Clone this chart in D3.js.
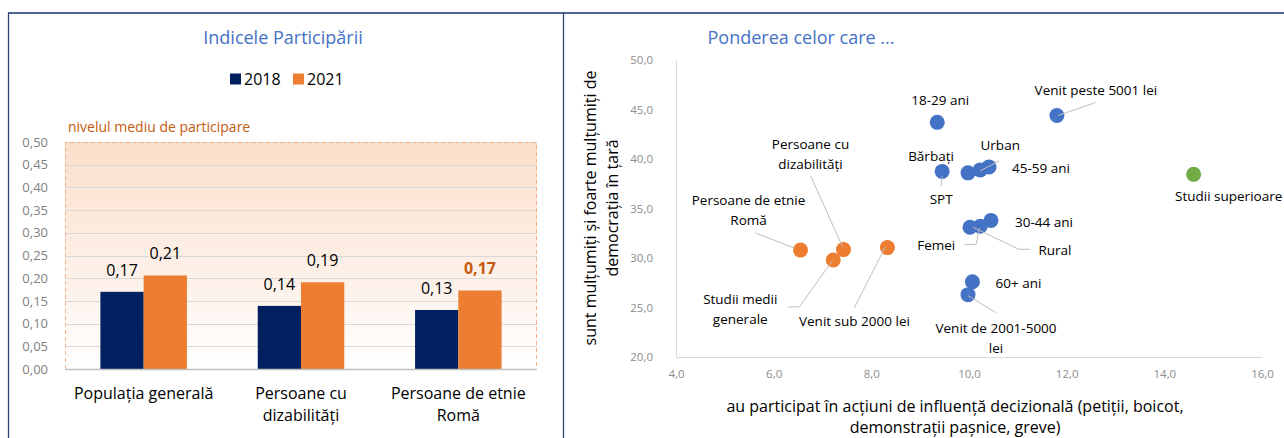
<!DOCTYPE html>
<html>
<head>
<meta charset="utf-8">
<script src="https://cdn.jsdelivr.net/npm/d3@7"></script>
<style>
  html, body { margin: 0; padding: 0; background: #fff; }
  svg { display: block; font-family: "Open Sans", "Noto Sans", sans-serif; }
</style>
</head>
<body>
<div id="chart"></div>
<script>
// Left chart: participation index
var categories = ["Populația generală", "Persoane cu dizabilități", "Persoane de etnie Romă"];
var categoryLines = [["Populația generală"], ["Persoane cu", "dizabilități"], ["Persoane de etnie", "Romă"]];
var years = ["2018", "2021"];
var values2018 = [0.17, 0.139, 0.130];
var values2021 = [0.206, 0.191, 0.173];
var barLabels2018 = ["0,17", "0,14", "0,13"];
var barLabels2021 = ["0,21", "0,19", "0,17"];
var leftTicks = [0, 0.05, 0.10, 0.15, 0.20, 0.25, 0.30, 0.35, 0.40, 0.45, 0.50];

// Right chart: scatter of groups
var groupNames = ["Persoane de etnie Romă", "Persoane cu dizabilități", "Studii medii generale", "Venit sub 2000 lei",
  "18-29 ani", "Venit peste 5001 lei", "SPT", "Bărbați", "Urban", "45-59 ani", "30-44 ani", "Femei", "Rural",
  "60+ ani", "Venit de 2001-5000 lei", "Studii superioare"];
var participated = [6.55, 7.43, 7.22, 8.33, 9.35, 11.8, 9.45, 9.98, 10.23, 10.41, 10.45, 10.23, 10.02, 10.07, 9.98, 14.6];
var satisfied = [30.8, 30.85, 29.8, 31.05, 43.7, 44.4, 38.75, 38.6, 38.9, 39.2, 33.8, 33.2, 33.1, 27.6, 26.3, 38.45];
var groupType = ["low", "low", "low", "low", "mid", "mid", "mid", "mid", "mid", "mid", "mid", "mid", "mid", "mid", "mid", "high"];
var xTicks = [4, 6, 8, 10, 12, 14, 16];
var yTicks = [20, 25, 30, 35, 40, 45, 50];

// label placement in pixels, relative to each point (dx, dy of first line, leader polyline)
var labelLayout = {
  "Persoane de etnie Romă": { lines: ["Persoane de etnie", "Romă"], dx: -52, dy: -50, leader: [[-45, -17], [-6, -2]] },
  "Persoane cu dizabilități": { lines: ["Persoane cu", "dizabilități"], dx: -33, dy: -106, leader: [[-33, -74], [-1, -3]] },
  "Studii medii generale": { lines: ["Studii medii", "generale"], dx: -93, dy: 39, leader: [[-1, 1], [-34, 47], [-45, 47]] },
  "Venit sub 2000 lei": { lines: ["Venit sub 2000 lei"], dx: -33, dy: 73, leader: [[-2, -1], [-33, 60]] },
  "18-29 ani": { lines: ["18-29 ani"], dx: 3, dy: -22 },
  "Venit peste 5001 lei": { lines: ["Venit peste 5001 lei"], dx: 39, dy: -25, leader: [[1, 0], [39, -13]] },
  "SPT": { lines: ["SPT"], dx: -1, dy: 28, leader: [[0, 5], [-1, 15]] },
  "Bărbați": { lines: ["Bărbați"], dx: -37, dy: -17 },
  "Urban": { lines: ["Urban"], dx: 20, dy: -25, leader: [[0, 1], [19, -9]] },
  "45-59 ani": { lines: ["45-59 ani"], dx: 52, dy: 1 },
  "30-44 ani": { lines: ["30-44 ani"], dx: 53, dy: 2 },
  "Femei": { lines: ["Femei"], dx: -44, dy: 19, leader: [[-1, 2], [-4, 18], [-16, 18]] },
  "Rural": { lines: ["Rural"], dx: 85, dy: 23, leader: [[3, 0], [49, 22], [60, 22]] },
  "60+ ani": { lines: ["60+ ani"], dx: 46, dy: 1 },
  "Venit de 2001-5000 lei": { lines: ["Venit de 2001-5000", "lei"], dx: 28, dy: 33, leader: [[0, 1], [28, 18]] },
  "Studii superioare": { lines: ["Studii superioare"], dx: 35, dy: 22 }
};

var typeColor = { low: "#ED7D31", mid: "#4472C4", high: "#70AD47" };
var yearColor = { "2018": "#002060", "2021": "#ED7D31" };

var ro = d3.formatLocale({ decimal: ",", thousands: ".", grouping: [3], currency: ["", ""] });
var fmt2 = ro.format(".2f");
var fmt1 = ro.format(".1f");

var width = 1284, height = 438;
var svg = d3.select("#chart").append("svg")
  .attr("width", width)
  .attr("height", height);

// Frame
svg.append("line").attr("x1", 8).attr("x2", width).attr("y1", 13).attr("y2", 13)
  .attr("stroke", "#50648f").attr("stroke-width", 2);
svg.append("line").attr("x1", 8.5).attr("x2", 8.5).attr("y1", 13).attr("y2", height)
  .attr("stroke", "#2f4372").attr("stroke-width", 1.3);
svg.append("line").attr("x1", 563.5).attr("x2", 563.5).attr("y1", 13).attr("y2", height)
  .attr("stroke", "#2f4372").attr("stroke-width", 1.3);

/* ---------- Left chart ---------- */
var left = { x0: 65, x1: 537, y0: 142, y1: 369 };

svg.append("text")
  .attr("x", 283).attr("y", 37)
  .attr("text-anchor", "middle").attr("dominant-baseline", "central")
  .attr("font-size", 18).attr("fill", "#4472C4")
  .text("Indicele Participării");

// Legend
var legend = svg.append("g").attr("transform", "translate(230,79)");
years.forEach(function(yr, i) {
  var g = legend.append("g").attr("transform", "translate(" + (i * 63) + ",0)");
  g.append("rect").attr("x", 0).attr("y", -5.5).attr("width", 11).attr("height", 11).attr("fill", yearColor[yr]);
  g.append("text").attr("x", 14).attr("y", 0).attr("dominant-baseline", "central")
    .attr("font-size", 16).attr("fill", "#000").text(yr);
});

var yLeft = d3.scaleLinear().domain([0, 0.5]).range([left.y1, left.y0]);
var xBand = d3.scaleBand().domain(categories).range([left.x0, left.x1]);
var groupW = xBand.bandwidth() * 0.55;
var xSub = d3.scaleBand().domain(years)
  .range([(xBand.bandwidth() - groupW) / 2, (xBand.bandwidth() + groupW) / 2]);

// Background gradient + dashed outline
var defs = svg.append("defs");
var grad = defs.append("linearGradient").attr("id", "bgGrad")
  .attr("x1", 0).attr("y1", 0).attr("x2", 0).attr("y2", 1);
grad.append("stop").attr("offset", "0%").attr("stop-color", "#FBDFCB");
grad.append("stop").attr("offset", "60%").attr("stop-color", "#FDF1E9");
grad.append("stop").attr("offset", "100%").attr("stop-color", "#FFFFFF");

svg.append("rect")
  .attr("x", left.x0).attr("y", yLeft(0.5))
  .attr("width", left.x1 - left.x0).attr("height", yLeft(0) - yLeft(0.5))
  .attr("fill", "url(#bgGrad)");

// Gridlines
svg.append("g").selectAll("line")
  .data(leftTicks.filter(function(t) { return t > 0; }))
  .join("line")
  .attr("x1", left.x0).attr("x2", left.x1)
  .attr("y1", function(d) { return Math.round(yLeft(d)) + 0.5; })
  .attr("y2", function(d) { return Math.round(yLeft(d)) + 0.5; })
  .attr("stroke", "#d9d9d9").attr("stroke-width", 1);

svg.append("path")
  .attr("d", "M" + (left.x0 + 0.5) + "," + left.y1 + "V" + (yLeft(0.5) + 0.5) + "H" + (left.x1 - 0.5) + "V" + left.y1)
  .attr("fill", "none").attr("stroke", "#F4B183").attr("stroke-width", 1)
  .attr("stroke-dasharray", "4,3");

svg.append("text")
  .attr("x", 68).attr("y", 126).attr("dominant-baseline", "central")
  .attr("font-size", 14).attr("fill", "#C55A11")
  .text("nivelul mediu de participare");

// Y axis labels
var yAxisLeft = svg.append("g")
  .attr("transform", "translate(" + left.x0 + ",0)")
  .call(d3.axisLeft(yLeft).tickValues(leftTicks).tickFormat(fmt2).tickSize(0).tickPadding(17));
yAxisLeft.select(".domain").remove();
yAxisLeft.selectAll("text").attr("font-family", "'Open Sans', sans-serif").attr("font-size", 13).attr("fill", "#7f7f7f");

// Bars
var barData = [];
categories.forEach(function(c, i) {
  barData.push({ cat: c, year: "2018", value: values2018[i], label: barLabels2018[i], idx: i });
  barData.push({ cat: c, year: "2021", value: values2021[i], label: barLabels2021[i], idx: i });
});

svg.append("g").selectAll("rect")
  .data(barData)
  .join("rect")
  .attr("x", function(d) { return xBand(d.cat) + xSub(d.year); })
  .attr("y", function(d) { return yLeft(d.value); })
  .attr("width", xSub.bandwidth())
  .attr("height", function(d) { return yLeft(0) - yLeft(d.value); })
  .attr("fill", function(d) { return yearColor[d.year]; });

svg.append("g").selectAll("text")
  .data(barData)
  .join("text")
  .attr("x", function(d) { return xBand(d.cat) + xSub(d.year) + xSub.bandwidth() / 2; })
  .attr("y", function(d) { return yLeft(d.value) - 16; })
  .attr("text-anchor", "middle")
  .attr("font-size", 16)
  .attr("font-weight", function(d) { return d.idx === 2 && d.year === "2021" ? "bold" : "normal"; })
  .attr("fill", function(d) { return d.idx === 2 && d.year === "2021" ? "#C55A11" : "#000"; })
  .text(function(d) { return d.label; });

// X axis line
svg.append("line")
  .attr("x1", left.x0).attr("x2", left.x1)
  .attr("y1", left.y1 + 0.5).attr("y2", left.y1 + 0.5)
  .attr("stroke", "#bfbfbf").attr("stroke-width", 1.5);

// Category labels
categories.forEach(function(c, i) {
  var t = svg.append("text")
    .attr("text-anchor", "middle")
    .attr("font-size", 16).attr("fill", "#000");
  categoryLines[i].forEach(function(line, j) {
    t.append("tspan")
      .attr("x", xBand(c) + xBand.bandwidth() / 2)
      .attr("y", 393 + j * 22)
      .attr("dominant-baseline", "central")
      .text(line);
  });
});

/* ---------- Right chart ---------- */
var right = { x0: 676, x1: 1262, y0: 60, y1: 357 };
var xR = d3.scaleLinear().domain([4, 16]).range([right.x0, right.x1]);
var yR = d3.scaleLinear().domain([20, 50]).range([right.y1, right.y0]);

svg.append("text")
  .attr("x", 801).attr("y", 37)
  .attr("text-anchor", "middle").attr("dominant-baseline", "central")
  .attr("font-size", 18).attr("fill", "#4472C4")
  .text("Ponderea celor care ...");

var yAxisR = svg.append("g")
  .attr("transform", "translate(" + right.x0 + ",0)")
  .call(d3.axisLeft(yR).tickValues(yTicks).tickFormat(fmt1).tickSize(0).tickPadding(23));
yAxisR.select(".domain").attr("stroke", "#d9d9d9");
yAxisR.selectAll("text").attr("font-family", "'Open Sans', sans-serif").attr("font-size", 11.5).attr("fill", "#8c8c8c");

var xAxisR = svg.append("g")
  .attr("transform", "translate(0," + right.y1 + ")")
  .call(d3.axisBottom(xR).tickValues(xTicks).tickFormat(fmt1).tickSize(0).tickPadding(13));
xAxisR.select(".domain").attr("stroke", "#d9d9d9");
xAxisR.selectAll("text").attr("font-family", "'Open Sans', sans-serif").attr("font-size", 11.5).attr("fill", "#8c8c8c");

// Axis titles
var yTitle = svg.append("text")
  .attr("transform", "translate(601,208) rotate(-90)")
  .attr("text-anchor", "middle").attr("font-size", 16).attr("fill", "#000");
["sunt mulțumiți și foarte mulțumiți de", "democrația în țară"].forEach(function(line, j) {
  yTitle.append("tspan").attr("x", 0).attr("y", -11 + j * 22)
    .attr("dominant-baseline", "central").text(line);
});

var xTitle = svg.append("text")
  .attr("text-anchor", "middle").attr("font-size", 16).attr("fill", "#000");
["au participat în acțiuni de influență decizională (petiții, boicot,", "demonstrații pașnice, greve)"].forEach(function(line, j) {
  xTitle.append("tspan").attr("x", 955).attr("y", 406 + j * 21)
    .attr("dominant-baseline", "central").text(line);
});

// Points
var points = groupNames.map(function(name, i) {
  return { name: name, x: participated[i], y: satisfied[i], type: groupType[i] };
});

svg.append("g").selectAll("circle")
  .data(points)
  .join("circle")
  .attr("cx", function(d) { return xR(d.x); })
  .attr("cy", function(d) { return yR(d.y); })
  .attr("r", 7.5)
  .attr("fill", function(d) { return typeColor[d.type]; });

// Leader lines
var leaderLine = d3.line();
svg.append("g").selectAll("path")
  .data(points.filter(function(d) { return labelLayout[d.name].leader; }))
  .join("path")
  .attr("d", function(d) {
    var px = xR(d.x), py = yR(d.y);
    return leaderLine(labelLayout[d.name].leader.map(function(p) { return [px + p[0], py + p[1]]; }));
  })
  .attr("fill", "none").attr("stroke", "#bfbfbf").attr("stroke-width", 1);

// Point labels
points.forEach(function(d) {
  var lay = labelLayout[d.name];
  var t = svg.append("text")
    .attr("text-anchor", "middle").attr("font-size", 13.5).attr("fill", "#000");
  lay.lines.forEach(function(line, j) {
    t.append("tspan")
      .attr("x", xR(d.x) + lay.dx)
      .attr("y", yR(d.y) + lay.dy + j * 20)
      .attr("dominant-baseline", "central")
      .text(line);
  });
});
</script>
</body>
</html>
